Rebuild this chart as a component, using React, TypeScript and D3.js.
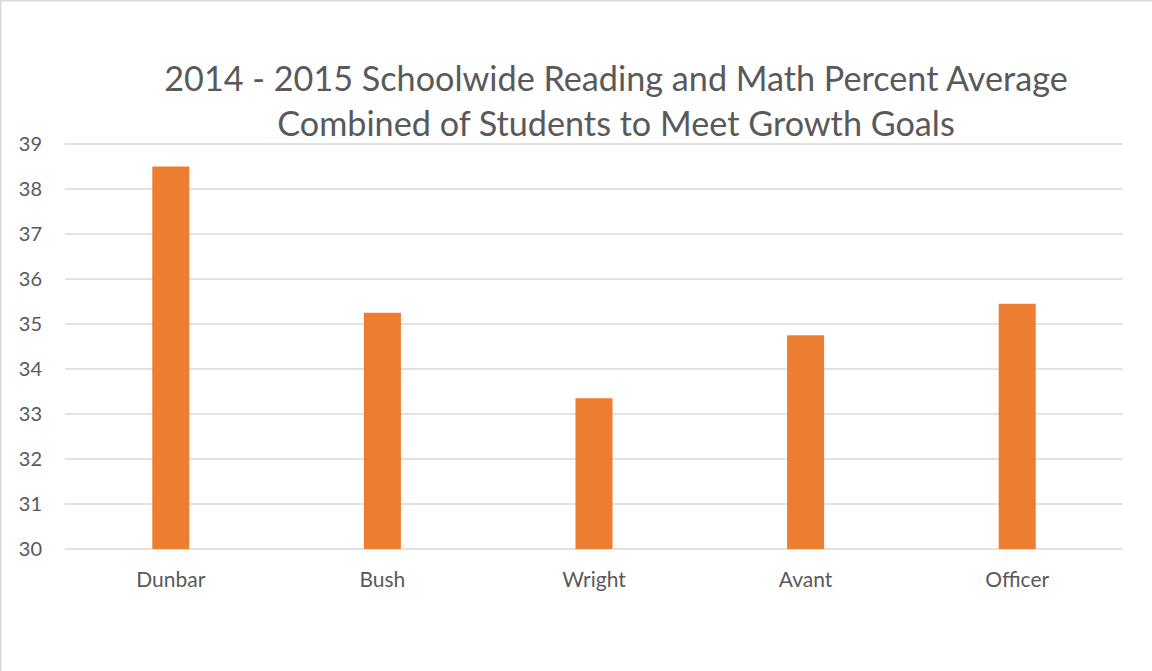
import React, { useEffect, useRef } from 'react';
import * as d3 from 'd3';

const schools = ['Dunbar', 'Bush', 'Wright', 'Avant', 'Officer'];
const percents = [38.5, 35.25, 33.35, 34.75, 35.45];
const yTicks = [30, 31, 32, 33, 34, 35, 36, 37, 38, 39];
const titleLines = [
    '2014 - 2015 Schoolwide Reading and Math Percent Average',
    'Combined of Students to Meet Growth Goals',
];

const App = () => {
    const chartRef = useRef<SVGSVGElement | null>(null);

    useEffect(() => {
        const width = 1152;
        const height = 671;
        const margin = { top: 144, right: 29, bottom: 122, left: 65 };
        const textColor = '#595959';
        const font = 'Lato, "Open Sans", sans-serif';

        const svg = d3.select(chartRef.current);
        svg.selectAll('*').remove();

        // frame
        svg
            .append('rect')
            .attr('x', 0.5)
            .attr('y', 0.5)
            .attr('width', width + 10)
            .attr('height', height + 10)
            .attr('fill', '#fff')
            .attr('stroke', '#d9d9d9')
            .attr('stroke-width', 2);

        const x = d3
            .scaleBand()
            .domain(schools)
            .range([margin.left, width - margin.right])
            .padding(0);

        const y = d3
            .scaleLinear()
            .domain([30, 39])
            .range([height - margin.bottom, margin.top]);

        // gridlines
        svg
            .append('g')
            .selectAll('line')
            .data(yTicks)
            .enter()
            .append('line')
            .attr('x1', margin.left)
            .attr('x2', width - margin.right)
            .attr('y1', (d) => y(d))
            .attr('y2', (d) => y(d))
            .attr('stroke', '#d9d9d9')
            .attr('stroke-width', 1.5);

        // y labels
        svg
            .append('g')
            .selectAll('text')
            .data(yTicks)
            .enter()
            .append('text')
            .attr('x', 42)
            .attr('y', (d) => y(d))
            .attr('dy', '0.35em')
            .attr('text-anchor', 'end')
            .attr('fill', textColor)
            .attr('font-family', font)
            .attr('font-size', 20)
            .text((d) => d);

        // bars
        const barW = x.bandwidth() * 0.175;
        svg
            .append('g')
            .selectAll('rect')
            .data(percents)
            .enter()
            .append('rect')
            .attr('x', (d, i) => x(schools[i])! + x.bandwidth() / 2 - barW / 2)
            .attr('y', (d) => y(d))
            .attr('width', barW)
            .attr('height', (d) => y(30) - y(d))
            .attr('fill', '#ed7d31');

        // x labels
        svg
            .append('g')
            .selectAll('text')
            .data(schools)
            .enter()
            .append('text')
            .attr('x', (d) => x(d)! + x.bandwidth() / 2)
            .attr('y', 587)
            .attr('text-anchor', 'middle')
            .attr('fill', textColor)
            .attr('font-family', font)
            .attr('font-size', 21)
            .text((d) => d);

        // title
        svg
            .append('g')
            .selectAll('text')
            .data(titleLines)
            .enter()
            .append('text')
            .attr('x', 616)
            .attr('y', (d, i) => 91 + i * 45)
            .attr('text-anchor', 'middle')
            .attr('fill', textColor)
            .attr('font-family', font)
            .attr('font-size', 34.2)
            .text((d) => d);
    }, []);

    return (
        <svg
            ref={chartRef}
            width={1152}
            height={671}
            style={{ position: 'absolute', left: 0, top: 0, display: 'block' }}
        />
    );
};

export default App;
